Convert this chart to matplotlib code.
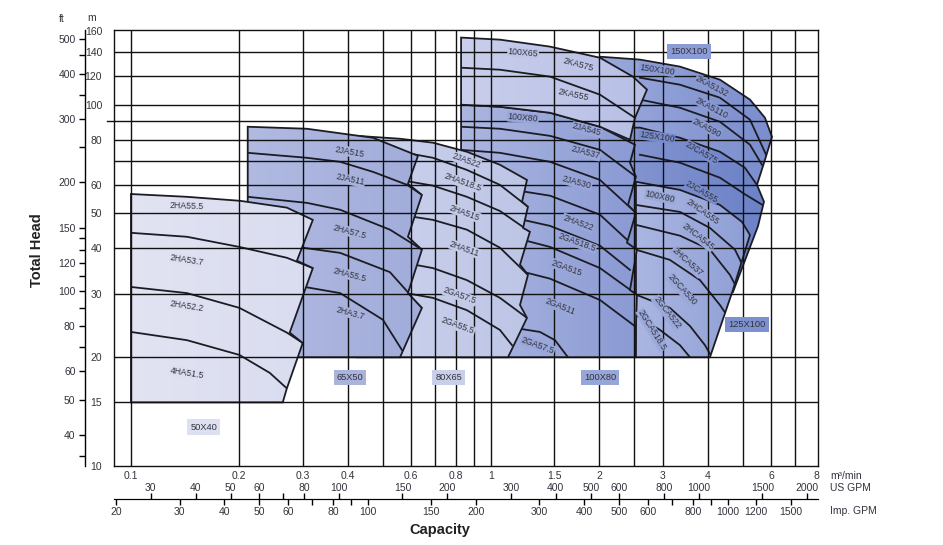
import numpy as np
import matplotlib.pyplot as plt
from matplotlib.patches import Polygon
from matplotlib.colors import LinearSegmentedColormap
from matplotlib.ticker import NullFormatter

plt.rcParams['font.family'] = ['Liberation Sans', 'DejaVu Sans']

# ---------------- axis data ----------------
q_ticks = [0.1, 0.2, 0.3, 0.4, 0.6, 0.8, 1, 1.5, 2, 3, 4, 6, 8]
q_tick_labels = ['0.1', '0.2', '0.3', '0.4', '0.6', '0.8', '1', '1.5', '2', '3', '4', '6', '8']
q_grid = [0.1, 0.2, 0.3, 0.4, 0.5, 0.6, 0.7, 0.8, 0.9, 1, 1.5, 2, 2.5, 3, 4, 5, 6, 7]
h_ticks = [10, 15, 20, 30, 40, 50, 60, 80, 100, 120, 140, 160]
h_grid = [15, 20, 30, 40, 50, 60, 70, 80, 90, 100, 120, 140]
ft_ticks = [40, 50, 60, 80, 100, 120, 150, 200, 300, 400, 500]
ft_minor = [35, 70, 90, 110, 130, 140, 250, 350, 450]
us_ticks = [30, 40, 50, 60, 80, 100, 150, 200, 300, 400, 500, 600, 800, 1000, 1500, 2000]
us_minor = [70]
imp_ticks = [20, 30, 40, 50, 60, 80, 100, 150, 200, 300, 400, 500, 600, 800, 1000, 1200, 1500]
imp_minor = [70, 90, 700, 900]

# ---------------- pump families (capacity m3/min, head m) ----------------
# 150X100 : 2KA5132 / 2KA5110 / 2KA590
f150_q = [2.009, 2.594, 3.35, 4.326, 5.242, 5.77, 6.034, 5.77, 5.482, 3.807, 2.009]
f150_h = [135.8, 133.3, 127.5, 117.3, 103.3, 92.0, 81.5, 70.4, 60.0, 70.4, 75.0]
f150_curves = [
    ([2.594, 3.35, 4.326, 5.242, 5.845], [118.8, 113.6, 104.6, 90.9, 71.8]),
    ([2.594, 3.35, 4.326, 5.242, 5.66], [103.3, 98.1, 89.7, 77.5, 68.2]),
]
f150_labels = [('150X100', 2.892, 125.0, -8), ('2KA5132', 4.11, 112.2, -28),
               ('2KA5110', 4.11, 98.1, -28), ('2KA590', 3.981, 86.4, -28)]

# 125X100 : 2JCA575 / 2JCA555
f125_q = [2.009, 2.594, 3.35, 4.326, 5.077, 5.482, 5.733, 5.517, 4.701, 2.009]
f125_h = [86.4, 86.4, 81.0, 74.1, 66.9, 60.0, 53.9, 46.1, 30.3, 30.3]
f125_curves = [
    ([2.594, 3.35, 4.326, 5.077, 5.733], [72.7, 69.1, 62.8, 56.5, 52.5]),
]
f125_labels = [('125X100', 2.892, 81.5, -8), ('2JCA575', 3.856, 73.6, -30),
               ('2JCA555', 3.856, 57.4, -30)]

# 100X80 (2HCA / 2GCA)
f80b_q = [2.528, 3.35, 4.326, 4.98, 5.242, 4.701, 4.058, 2.528]
f80b_h = [61.2, 58.1, 52.8, 47.4, 43.6, 30.7, 20, 20]
f80b_curves = [
    ([2.528, 3.35, 4.058, 4.762, 5.077], [52.8, 50.5, 45.6, 39.7, 34.9]),
    ([2.528, 3.35, 4.058, 4.612, 4.854], [46.5, 43.4, 39.7, 33.8, 30.7]),
    ([2.528, 3.14, 3.807, 4.326, 4.612], [39.7, 37.2, 32.7, 27.9, 25.4]),
    ([2.528, 3.14, 3.572, 3.931, 4.11], [29.8, 27.4, 24.4, 21.6, 20]),
    ([2.528, 2.948, 3.35, 3.572], [26.2, 23.8, 21.6, 20]),
]
f80b_labels = [('100X80', 2.948, 55.6, -12), ('2HCA555', 3.88, 50.5, -35),
               ('2HCA545', 3.758, 43.1, -38), ('2HCA537', 3.503, 36.7, -42),
               ('2GCA530', 3.393, 30.7, -48), ('2GCA522', 3.083, 26.5, -52),
               ('2GCA518.5', 2.801, 23.8, -58)]

# 100X80 (2JA / 2HA / 2GA)
f80a_q = [0.826, 1.059, 1.459, 2.009, 2.512, 2.433, 2.528, 2.402, 2.528, 2.387,
          2.544, 2.433, 2.544, 2.512, 0.826]
f80a_h = [100, 98.7, 95.0, 86.9, 77.5, 69.1, 63.2, 52.8, 50.2, 41.5, 39.7, 30.7,
          29.8, 20, 20]
f80a_curves = [
    ([0.826, 1.059, 1.459, 2.009, 2.528], [86.9, 85.8, 82.0, 75.0, 63.2]),
    ([0.826, 1.059, 1.459, 2.009, 2.528], [75.0, 73.6, 69.5, 61.9, 50.2]),
    ([0.826, 1.059, 1.459, 2.009, 2.387, 2.544], [60.0, 58.9, 56.0, 49.6, 42.3, 39.7]),
    ([0.826, 1.059, 1.459, 2.009, 2.433], [50.5, 49.6, 46.2, 40.7, 34.9]),
    ([0.826, 1.059, 1.459, 2.009, 2.544], [45.1, 43.9, 40.4, 35.3, 29.8]),
    ([0.826, 1.059, 1.459, 2.009, 2.594], [36.7, 35.8, 33.0, 28.8, 23.8]),
    ([1.166, 1.368, 1.506, 1.636], [24.1, 23.5, 22.3, 20]),
]
f80a_labels = [('100X80', 1.228, 92.0, -5), ('2JA545', 1.848, 85.2, -15),
               ('2JA537', 1.836, 73.6, -15), ('2JA530', 1.734, 60.8, -15),
               ('2HA522', 1.745, 47.1, -20), ('2GA518.5', 1.734, 41.5, -20),
               ('2GA515', 1.626, 35.3, -20), ('2GA511', 1.555, 27.6, -22),
               ('2GA57.5', 1.351, 21.6, -20)]

# 100X65 : 2KA575 / 2KA555
f65b_q = [0.826, 1.059, 1.459, 2.009, 2.479, 2.712, 2.512, 2.433, 2.009, 1.459, 1.059, 0.826]
f65b_h = [153.4, 151.4, 144.8, 134.9, 119.6, 110.1, 92.0, 80.0, 86.9, 95.0, 98.7, 100]
f65b_curves = [
    ([0.826, 1.059, 1.459, 2.009, 2.512], [126.6, 125.0, 119.6, 106.6, 92.0]),
]
f65b_labels = [('100X65', 1.228, 139.3, -5), ('2KA575', 1.745, 129.1, -15),
               ('2KA555', 1.690, 106.6, -12)]

# 80X65
f65a_q = [0.424, 0.559, 0.690, 0.857, 1.059, 1.259, 1.220, 1.267, 1.228, 1.283,
          1.204, 1.267, 1.204, 1.259, 1.115, 0.424]
f65a_h = [82.0, 80.5, 78.5, 74.1, 68.2, 61.9, 53.9, 52.2, 45.6, 44.5, 36.1, 33.8,
          27.9, 25.7, 20, 20]
f65a_curves = [
    ([0.559, 0.690, 0.857, 1.059, 1.267], [74.1, 71.3, 66.0, 60.0, 52.2]),
    ([0.559, 0.690, 0.857, 1.059, 1.283], [61.9, 59.7, 55.6, 50.8, 44.5]),
    ([0.559, 0.690, 0.857, 1.059, 1.267], [49.6, 48.0, 45.1, 40.2, 33.8]),
    ([0.559, 0.690, 0.857, 1.059, 1.259], [36.7, 35.3, 32.7, 29.2, 25.7]),
    ([0.559, 0.690, 0.857, 1.059, 1.144], [30.3, 29.2, 27.0, 23.8, 21.6]),
]
f65a_labels = [('2JA522', 0.852, 70.0, -20), ('2HA518.5', 0.836, 60.8, -20),
               ('2HA515', 0.845, 50.2, -20), ('2HA511', 0.845, 39.9, -20),
               ('2GA57.5', 0.820, 29.6, -20), ('2GA55.5', 0.810, 24.4, -20)]

# 65X50
f50_q = [0.211, 0.308, 0.470, 0.627, 0.588, 0.643, 0.588, 0.643, 0.588, 0.643, 0.559, 0.211]
f50_h = [86.9, 85.8, 81.0, 72.2, 60.4, 56.3, 43.1, 39.7, 30.1, 27.4, 20, 20]
f50_curves = [
    ([0.211, 0.308, 0.381, 0.470, 0.585, 0.643], [73.6, 71.3, 69.5, 65.2, 60.0, 56.3]),
    ([0.211, 0.308, 0.381, 0.524, 0.643], [55.6, 53.5, 51.2, 45.1, 39.7]),
    ([0.211, 0.300, 0.381, 0.524, 0.643], [41.2, 40.2, 38.9, 34.4, 27.4]),
    ([0.211, 0.304, 0.381, 0.501, 0.577], [32.1, 31.3, 30.1, 25.4, 20.3]),
]
f50_labels = [('2JA515', 0.406, 74.1, -10), ('2JA511', 0.406, 61.9, -12),
              ('2HA57.5', 0.406, 44.5, -15), ('2HA55.5', 0.406, 33.8, -15),
              ('2HA3.7', 0.406, 26.5, -15)]

# 50X40
f40_q = [0.1, 0.143, 0.201, 0.271, 0.320, 0.289, 0.320, 0.276, 0.300, 0.271, 0.264, 0.1]
f40_h = [56.6, 55.6, 54.2, 51.9, 48.0, 37.0, 35.3, 23.4, 21.9, 16.4, 15, 15]
f40_curves = [
    ([0.1, 0.143, 0.2, 0.271, 0.32], [44.2, 43.1, 40.4, 37.7, 35.3]),
    ([0.1, 0.143, 0.2, 0.271, 0.30], [31.3, 30.1, 27.4, 23.4, 21.9]),
    ([0.1, 0.143, 0.2, 0.243, 0.271], [23.5, 22.3, 20.3, 18.1, 16.4]),
]
f40_labels = [('2HA55.5', 0.143, 52.5, -2), ('2HA53.7', 0.143, 37.2, -9),
              ('2HA52.2', 0.143, 27.7, -9), ('4HA51.5', 0.143, 18.1, -9)]

# size boxes
box_names = ['50X40', '65X50', '80X65', '100X80', '125X100', '150X100']
box_q = [0.1595, 0.406, 0.764, 2.009, 5.14, 3.548]
box_h = [12.82, 17.53, 17.53, 17.53, 24.7, 140.2]
box_colors = ['#dde0f0', '#a9b3dc', '#c9cfe9', '#97a5d8', '#7e91cf', '#8b9bd5']

# ---------------- figure ----------------
W, H = 943, 545
fig = plt.figure(figsize=(W / 100, H / 100), dpi=100)
L, R, B, T = 114 / W, 818 / W, 1 - 466 / H, 1 - 30 / H
ax = fig.add_axes([L, B, R - L, T - B])
ax.set_xscale('log')
ax.set_yscale('log')
ax.set_xlim(0.0897, 8.1)
ax.set_ylim(10, 161)
for s in ax.spines.values():
    s.set_linewidth(1.0)
    s.set_color('#111111')

ink = '#1c1c24'
txt = '#33333d'


def draw_family(oq, oh, curves, c_left, c_right, labels, z):
    poly = Polygon(np.column_stack([oq, oh]), closed=True, facecolor='none',
                   edgecolor=ink, lw=1.3, zorder=z + 0.02, joinstyle='miter')
    ax.add_patch(poly)
    # horizontal colour gradient, clipped to the outline
    cmap = LinearSegmentedColormap.from_list('g', [c_left, c_right])
    qs = np.geomspace(min(oq), max(oq), 40)
    mesh = ax.pcolormesh(qs, [min(oh), max(oh)], np.linspace(0, 1, 39)[None, :],
                         cmap=cmap, shading='flat', zorder=z)
    mesh.set_clip_path(poly)
    for cq, ch in curves:
        ln, = ax.plot(cq, ch, color=ink, lw=1.3, zorder=z + 0.01)
        ln.set_clip_path(poly)
    mid = cmap(0.55)
    for s, q, h, r in labels:
        ax.text(q, h, s, rotation=r, ha='center', va='center', fontsize=6.3,
                color=txt, zorder=12, rotation_mode='anchor',
                bbox=dict(fc=mid, ec='none', pad=0.4))


draw_family(f150_q, f150_h, f150_curves, '#9aa8da', '#7a8dcd', f150_labels, 1)
draw_family(f125_q, f125_h, f125_curves, '#8797d2', '#6c81c7', f125_labels, 2)
draw_family(f80b_q, f80b_h, f80b_curves, '#aab6e1', '#8e9ed5', f80b_labels, 3)
draw_family(f80a_q, f80a_h, f80a_curves, '#abb5e0', '#8a9ad3', f80a_labels, 4)
draw_family(f65b_q, f65b_h, f65b_curves, '#c8ceeb', '#b7bfe5', f65b_labels, 5)
draw_family(f65a_q, f65a_h, f65a_curves, '#ccd2ec', '#bdc5e6', f65a_labels, 6)
draw_family(f50_q, f50_h, f50_curves, '#b0b9e0', '#a1acda', f50_labels, 7)
draw_family(f40_q, f40_h, f40_curves, '#e1e3f2', '#d9dcef', f40_labels, 8)

# grid on top of the fills
ax.vlines(q_grid, 10, 161, color='#111111', lw=1.0, zorder=10)
ax.hlines(h_grid, 0.0897, 8.1, color='#111111', lw=1.0, zorder=10)
# short stub of the 90 m line outside the frame
ax.plot([-0.01, 0], [90, 90], color='#111111', lw=1.0,
        transform=ax.get_yaxis_transform(), clip_on=False)

for s, q, h, c in zip(box_names, box_q, box_h, box_colors):
    ax.text(q, h, s, ha='center', va='center', fontsize=6.7, color=txt, zorder=13,
            bbox=dict(fc=c, ec='none', pad=2.2))

# m axis labels
ax.set_yticks(h_ticks, labels=[str(v) for v in h_ticks])
ax.yaxis.set_minor_formatter(NullFormatter())
ax.tick_params(axis='y', which='both', length=0, pad=8.5, labelsize=7.5, labelcolor=txt)
ax.set_xticks(q_ticks, labels=q_tick_labels)
ax.xaxis.set_minor_formatter(NullFormatter())
ax.tick_params(axis='x', which='both', length=0, pad=3.5, labelsize=7.5, labelcolor=txt)
ax.tick_params(axis='y', which='minor', left=False)
ax.tick_params(axis='x', which='minor', bottom=False)

# ft axis
ax_ft = fig.add_axes([85 / W, B, 0.0001, T - B])
ax_ft.set_yscale('log')
ax_ft.set_ylim(10 / 0.3048, 161 / 0.3048)
for s in ['top', 'right', 'bottom']:
    ax_ft.spines[s].set_visible(False)
ax_ft.spines['left'].set_linewidth(1.0)
ax_ft.patch.set_visible(False)
ax_ft.set_xticks([])
ax_ft.set_yticks(ft_ticks, labels=[str(v) for v in ft_ticks])
ax_ft.set_yticks(ft_minor, minor=True)
ax_ft.yaxis.set_minor_formatter(NullFormatter())
ax_ft.tick_params(axis='y', which='both', length=4.3, width=1.0, pad=2.5,
                  labelsize=7.5, labelcolor=txt)

# GPM axes
yb = 1 - 499 / H
ax_us = fig.add_axes([L, yb, R - L, 0.0001])
ax_us.set_xscale('log')
ax_us.set_xlim(0.0897 * 264.17, 8.1 * 264.17)
for s in ['left', 'right', 'bottom']:
    ax_us.spines[s].set_visible(False)
ax_us.patch.set_visible(False)
ax_us.set_yticks([])
ax_us.xaxis.tick_top()
ax_us.set_xticks(us_ticks, labels=[str(v) for v in us_ticks])
ax_us.set_xticks(us_minor, minor=True)
ax_us.xaxis.set_minor_formatter(NullFormatter())
ax_us.tick_params(axis='x', which='both', top=True, bottom=False, labeltop=True,
                  labelbottom=False, length=4.3, width=1.0, pad=0.3,
                  labelsize=7.5, labelcolor=txt)

ax_imp = fig.add_axes([L, yb, R - L, 0.0001])
ax_imp.set_xscale('log')
ax_imp.set_xlim(0.0897 * 219.97, 8.1 * 219.97)
for s in ['left', 'right', 'top']:
    ax_imp.spines[s].set_visible(False)
ax_imp.patch.set_visible(False)
ax_imp.set_yticks([])
ax_imp.set_xticks(imp_ticks, labels=[str(v) for v in imp_ticks])
ax_imp.set_xticks(imp_minor, minor=True)
ax_imp.xaxis.set_minor_formatter(NullFormatter())
ax_imp.tick_params(axis='x', which='both', length=4.3, width=1.0, pad=1.5,
                   labelsize=7.5, labelcolor=txt)

# texts
fig.text(830 / W, 1 - 476 / H, 'm³/min', fontsize=7.5, color=txt, va='center')
fig.text(830 / W, 1 - 488 / H, 'US GPM', fontsize=7.5, color=txt, va='center')
fig.text(830 / W, 1 - 511 / H, 'Imp. GPM', fontsize=7.5, color=txt, va='center')
fig.text(62 / W, 1 - 19 / H, 'ft', fontsize=7.5, color=txt, ha='center', va='center')
fig.text(92 / W, 1 - 18 / H, 'm', fontsize=7.5, color=txt, ha='center', va='center')
fig.text(440 / W, 1 - 530 / H, 'Capacity', fontsize=10.5, fontweight='bold',
         color='#222', ha='center', va='center')
fig.text(37 / W, 1 - 250 / H, 'Total Head', fontsize=10.5, fontweight='bold',
         color='#222', ha='center', va='center', rotation=90)

fig.savefig('out.png', dpi=100)
